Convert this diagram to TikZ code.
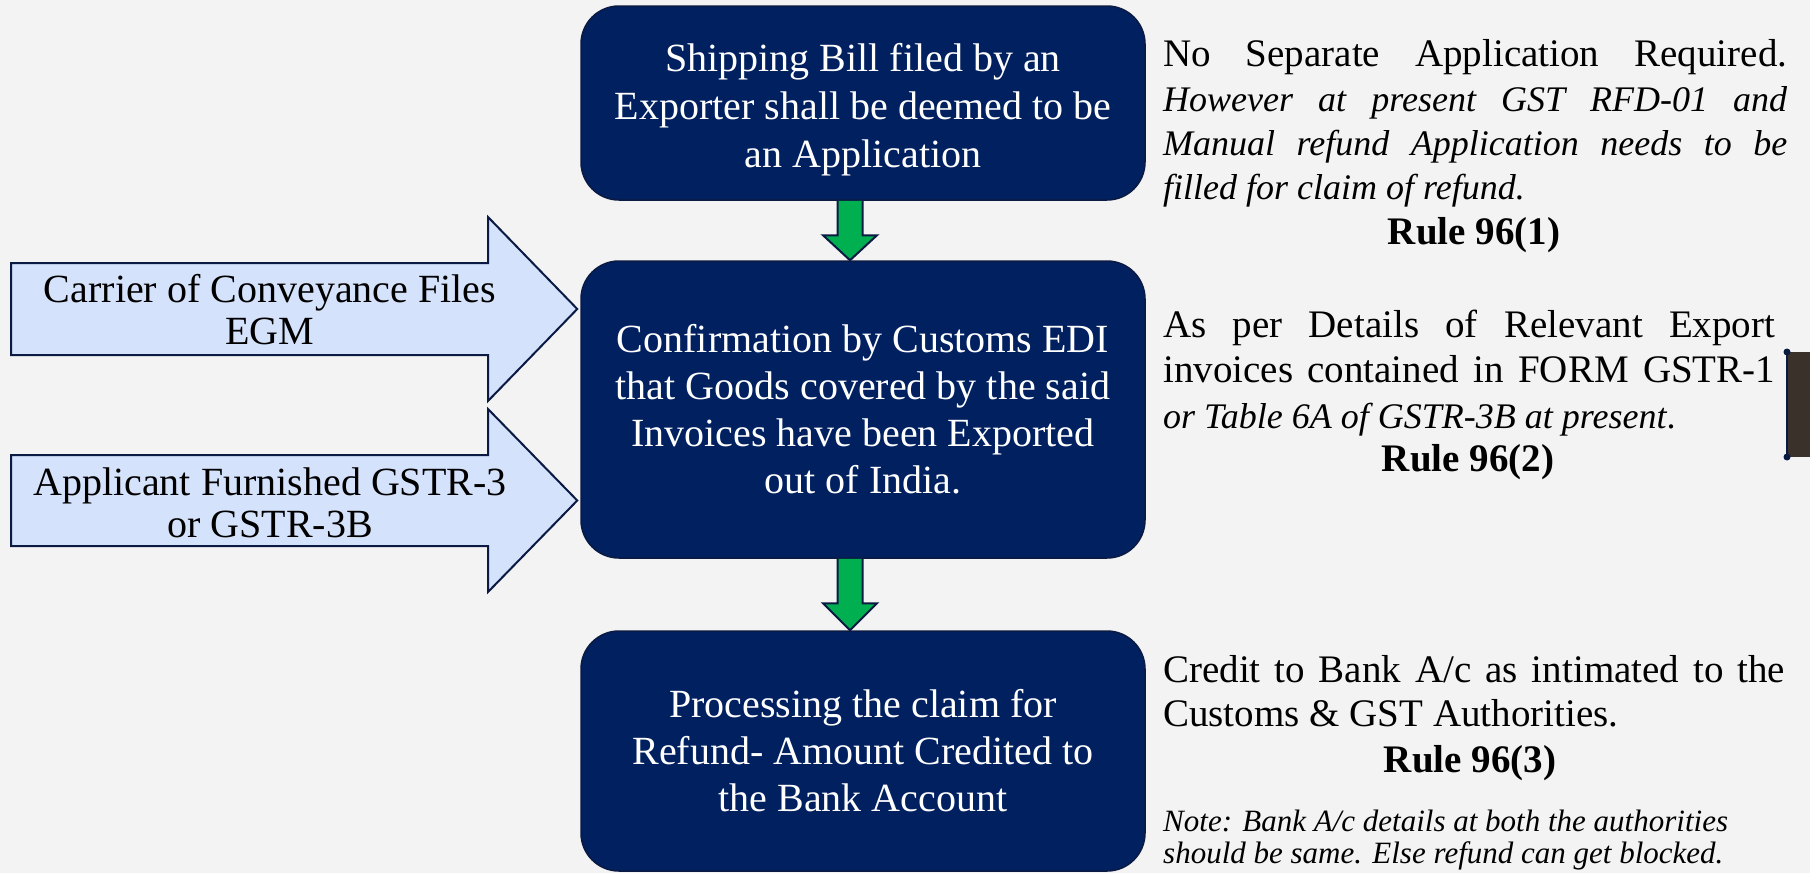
\documentclass[tikz,border=0pt]{standalone}
\usepackage{fontspec}
\setmainfont{Liberation Serif}
\usetikzlibrary{calc}

\definecolor{navy}{RGB}{0,32,96}
\definecolor{navyedge}{RGB}{10,26,66}
\definecolor{paleblue}{RGB}{213,226,251}
\definecolor{arrowgreen}{RGB}{0,176,80}
\definecolor{bggray}{RGB}{243,243,243}
\definecolor{sidebrown}{RGB}{58,50,42}

\begin{document}
\begin{tikzpicture}[x=1pt,y=-1pt,
  flowbox/.style={draw=navyedge, line width=1.5pt, fill=navy, rounded corners=38pt,
    text=white, align=center, inner sep=0pt, minimum width=564pt,
    font=\fontsize{40}{47}\selectfont},
  inarrow/.style={draw=navyedge, line width=2pt, fill=paleblue, line join=miter},
  downarrow/.style={draw=navyedge, line width=2pt, fill=arrowgreen, line join=miter},
  arrowlabel/.style={align=center, inner sep=0pt, font=\fontsize{40}{42}\selectfont},
  sidetext/.style={anchor=base west, inner sep=0pt, font=\fontsize{39}{44}\selectfont},
  sideital/.style={anchor=base west, inner sep=0pt, font=\fontsize{36}{44}\selectfont\itshape},
  ruletext/.style={anchor=base, inner sep=0pt, font=\fontsize{39}{44}\selectfont\bfseries},
  notetext/.style={anchor=base west, inner sep=0pt, font=\fontsize{31}{32}\selectfont\itshape}
]

% page background
\fill[bggray] (0,0) rectangle (1810,873);
\useasboundingbox (0,0) rectangle (1810,873);

% edge of a dark panel on the right
\fill[sidebrown] (1787,352) rectangle (1810,457);
\draw[navyedge, line width=1.5pt] (1787,352) -- (1787,457);
\fill[navyedge] (1787,352) circle (3.5pt) (1787,457) circle (3.5pt);

% main flow boxes
\node[flowbox, minimum height=194pt] (ship) at (863,103) {};
\node[align=center, text=white, inner sep=0pt, font=\fontsize{40}{48}\selectfont]
  (shiptext) at ([yshift=-7pt]ship.center)
  {Shipping Bill filed by an\\Exporter shall be deemed to be\\an Application};
\node[flowbox, minimum height=297pt] (conf) at (863,409.5)
  {Confirmation by Customs EDI\\that Goods covered by the said\\Invoices have been Exported\\out of India.};
\node[flowbox, minimum height=240pt] (proc) at (863,751)
  {Processing the claim for\\Refund- Amount Credited to\\the Bank Account};

% green block arrows between the boxes
\path ([xshift=-13pt]ship.south) coordinate (g1a)
      ([xshift=-13pt]conf.north) coordinate (g1b)
      ([xshift=-13pt]conf.south) coordinate (g2a)
      ([xshift=-13pt]proc.north) coordinate (g2b);
\draw[downarrow] ($(g1a)+(-12.5,0)$) -- ($(g1b)+(-12.5,-25)$) -- ($(g1b)+(-27,-25)$)
  -- (g1b) -- ($(g1b)+(27,-25)$) -- ($(g1b)+(12.5,-25)$) -- ($(g1a)+(12.5,0)$);
\draw[downarrow] ($(g2a)+(-12.5,0)$) -- ($(g2b)+(-12.5,-27)$) -- ($(g2b)+(-27,-27)$)
  -- (g2b) -- ($(g2b)+(27,-27)$) -- ($(g2b)+(12.5,-27)$) -- ($(g2a)+(12.5,0)$);

% incoming block arrows on the left
\coordinate (y1) at (0,309);
\coordinate (y2) at (0,500.5);
\coordinate (tip1) at ([xshift=-3pt]conf.west |- y1);
\coordinate (tip2) at ([xshift=-3pt]conf.west |- y2);
\draw[inarrow] (11,263) -- (488,263) -- (488,217) -- (tip1) -- (488,401) -- (488,355) -- (11,355) -- cycle;
\draw[inarrow] (11,455) -- (488,455) -- (488,409) -- (tip2) -- (488,592) -- (488,546) -- (11,546) -- cycle;
\node[arrowlabel] (carrier) at (270,310) {Carrier of Conveyance Files\\EGM};
\node[arrowlabel] (applicant) at (270,503) {Applicant Furnished GSTR-3\\or GSTR-3B};

% notes beside the first box
\node[sidetext] (n1a) at (1163,66) {\makebox[624pt][s]{No Separate Application Required.}};
\node[sideital] (n1b) at (1163,111) {\makebox[624pt][s]{However at present GST RFD-01 and}};
\node[sideital] (n1c) at (1163,155) {\makebox[624pt][s]{Manual refund Application needs to be}};
\node[sideital] (n1d) at (1163,199) {filled for claim of refund.};
\node[ruletext] (rule1) at (1474,244) {Rule 96(1)};

% notes beside the second box
\node[sidetext] (n2a) at (1163,337) {\makebox[612pt][s]{As per Details of Relevant Export}};
\node[sidetext] (n2b) at (1163,382) {\makebox[612pt][s]{invoices contained in FORM GSTR-1}};
\node[sideital] (n2c) at (1163,428) {or Table 6A of GSTR-3B at present\upshape.};
\node[ruletext] (rule2) at (1468,471) {Rule 96(2)};

% notes beside the third box
\node[sidetext] (n3a) at (1163,682) {\makebox[622pt][s]{Credit to Bank A/c as intimated to the}};
\node[sidetext] (n3b) at (1163,726) {Customs \& GST Authorities.};
\node[ruletext] (rule3) at (1470,772) {Rule 96(3)};
\node[notetext] (n3c) at (1163,831) {Note: Bank A/c details at both the authorities};
\node[notetext] (n3d) at (1163,863) {should be same. Else refund can get blocked.};

\end{tikzpicture}
\end{document}
